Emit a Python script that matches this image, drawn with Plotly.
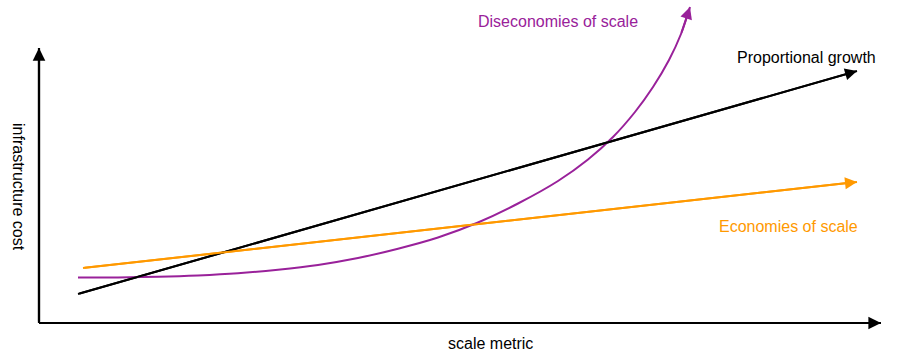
import plotly.graph_objects as go

# Data units: x = scale metric, y = infrastructure cost (arbitrary units)
axis_x_len = 842
axis_y_len = 275

prop_x = [39, 818]
prop_y = [29, 252]

econ_x = [44, 818]
econ_y = [55, 141]

dis_x = [39, 79, 119, 159, 199, 239, 279, 319, 359, 399, 439, 479, 519, 549, 574, 596, 614, 630, 642, 651]
dis_y = [45.5, 45.6, 46.2, 47.5, 49.7, 53.3, 58.1, 65.0, 74.3, 85.5, 100.5, 119.5, 142, 163.5, 186, 211, 236, 263, 289, 316]

labels = {
    "x": "scale metric",
    "y": "infrastructure cost",
    "prop": "Proportional growth",
    "econ": "Economies of scale",
    "dis": "Diseconomies of scale",
}

BLACK = "#000000"
ORANGE = "#FF9900"
PURPLE = "#99219A"
FONT = "Liberation Sans, Arial, Helvetica, sans-serif"

fig = go.Figure()

# axes
fig.add_trace(go.Scatter(x=[0, axis_x_len], y=[0, 0], mode="lines",
                         line=dict(color=BLACK, width=2.2), hoverinfo="skip"))
fig.add_trace(go.Scatter(x=[0, 0], y=[0, axis_y_len], mode="lines",
                         line=dict(color=BLACK, width=2.2), hoverinfo="skip"))

fig.add_trace(go.Scatter(x=prop_x, y=prop_y, mode="lines",
                         line=dict(color=BLACK, width=2), hoverinfo="skip"))
fig.add_trace(go.Scatter(x=econ_x, y=econ_y, mode="lines",
                         line=dict(color=ORANGE, width=2), hoverinfo="skip"))
fig.add_trace(go.Scatter(x=dis_x, y=dis_y, mode="lines",
                         line=dict(color=PURPLE, width=2, shape="spline", smoothing=1.0),
                         hoverinfo="skip"))


def head(xs, ys, color, width=2, size=1.2):
    # arrowhead at the last point, oriented along the final segment
    fig.add_annotation(x=xs[-1], y=ys[-1], ax=xs[-2], ay=ys[-2],
                       xref="x", yref="y", axref="x", ayref="y",
                       text="", showarrow=True, arrowhead=2, arrowsize=size,
                       arrowwidth=width, arrowcolor=color, standoff=0)


head([0, axis_x_len], [0, 0], BLACK, 2.2, 1.15)
head([0, 0], [0, axis_y_len], BLACK, 2.2, 1.15)
head(prop_x, prop_y, BLACK)
head(econ_x, econ_y, ORANGE)
head(dis_x, dis_y, PURPLE)


def label(x, y, text, color, angle=0):
    fig.add_annotation(x=x, y=y, xref="x", yref="y", text=text, showarrow=False,
                       textangle=angle, font=dict(family=FONT, size=16, color=color),
                       xanchor="center", yanchor="middle")


label(519, 302, labels["dis"], PURPLE)
label(767, 266, labels["prop"], BLACK)
label(749, 97, labels["econ"], ORANGE)
label(451, -20, labels["x"], BLACK)
label(-20, 136, labels["y"], BLACK, 90)

fig.update_layout(
    width=910, height=363, autosize=False,
    margin=dict(l=0, r=0, t=0, b=0),
    paper_bgcolor="white", plot_bgcolor="white",
    showlegend=False,
    xaxis=dict(range=[-39, 871], visible=False, fixedrange=True),
    yaxis=dict(range=[-40, 323], visible=False, fixedrange=True),
)

fig.write_html("out.html", config={"displayModeBar": False, "staticPlot": True},
               post_script="document.body.style.margin='0px';document.body.style.overflow='hidden';")
